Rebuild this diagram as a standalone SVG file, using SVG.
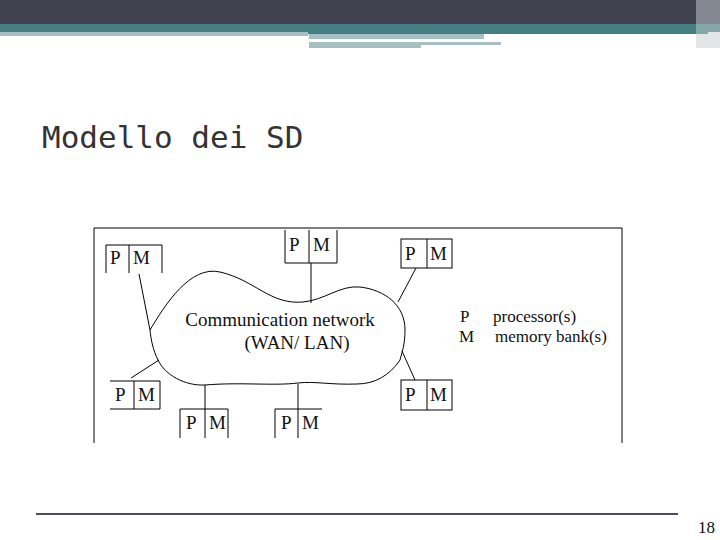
<svg xmlns="http://www.w3.org/2000/svg" width="720" height="540" viewBox="0 0 720 540">
<style>
.l{stroke:#000;stroke-width:1;fill:none}
.t{font-family:"Liberation Serif",serif;font-size:19px;fill:#111}
.s{font-family:"Liberation Serif",serif;font-size:17px;fill:#111}
</style>
<rect width="720" height="540" fill="#fff"/>
<g id="header">
<rect x="0" y="0" width="720" height="24" fill="#41414f"/>
<rect x="0" y="24" width="720" height="8" fill="#457f83"/>
<rect x="0" y="32" width="308" height="4" fill="#a6bfc2"/>
<rect x="308" y="32" width="400" height="2" fill="#457f83"/>
<rect x="309" y="34" width="175" height="5" fill="#a6bfc2"/>
<rect x="309" y="42" width="112" height="6" fill="#a6bfc2"/>
<rect x="421" y="42" width="80" height="3" fill="#a6bfc2"/>
<rect x="696" y="0" width="24" height="48" fill="#c5ced0" opacity="0.5"/>
</g>
<text x="42" y="148" font-family="DejaVu Sans Mono,monospace" font-size="31" fill="#333">Modello dei SD</text>
<g id="frame"><path class="l" d="M94 443V228H622V443"/></g>
<g id="connectors">
<path class="l" d="M150 330C165 305 190 265 220 272C255 280 270 305 303 302C325 300 340 285 360 287C385 290 405 305 405 330C405 345 402 352 400 360C390 375 375 384 357 384C330 385 315 381 298 383C275 386 240 382 205 385C185 386 165 375 158 360C153 350 151 340 150 330Z"/>
<path class="l" d="M139 274L150 330M311 263V303M416 268L398 302M131 378L159 360M205 385V409M298 384V409M402 351L415 380"/>
</g>
<g id="pm1"><path class="l" d="M106 273V245H162V273M129 245V273"/><text class="t" x="110" y="264">P</text><text class="t" x="133" y="264">M</text></g>
<g id="pm2"><path class="l" d="M285 230V263H337V230M309 230V263"/><text class="t" x="289" y="251">P</text><text class="t" x="313" y="251">M</text></g>
<g id="pm3"><rect class="l" x="401" y="239" width="51" height="29"/><path class="l" d="M427 239V268"/><text class="t" x="405" y="260">P</text><text class="t" x="430" y="260">M</text></g>
<g id="pm4"><path class="l" d="M110 381H160V409H110M134 381V409"/><text class="t" x="115" y="401">P</text><text class="t" x="138" y="401">M</text></g>
<g id="pm5"><rect class="l" x="401" y="380" width="51" height="30"/><path class="l" d="M427 380V410"/><text class="t" x="405" y="401">P</text><text class="t" x="430" y="401">M</text></g>
<g id="pm6"><path class="l" d="M180 438V409H228V438M205 409V438"/><text class="t" x="186" y="429">P</text><text class="t" x="209" y="429">M</text></g>
<g id="pm7"><path class="l" d="M275 438V409H322M298 409V438"/><text class="t" x="281" y="429">P</text><text class="t" x="302" y="429">M</text></g>
<g id="cloudtext"><text class="t" x="280" y="326" text-anchor="middle">Communication network</text><text class="t" x="297" y="349" text-anchor="middle">(WAN/ LAN)</text></g>
<g id="legend"><text class="s" x="460" y="322">P</text><text class="s" x="493" y="322">processor(s)</text><text class="s" x="459" y="342">M</text><text class="s" x="495" y="342">memory bank(s)</text></g>
<rect x="36" y="513" width="642" height="2" fill="#4a4a60"/>
<text x="698" y="533" font-family="Liberation Serif,serif" font-size="17" fill="#111">18</text>
</svg>
